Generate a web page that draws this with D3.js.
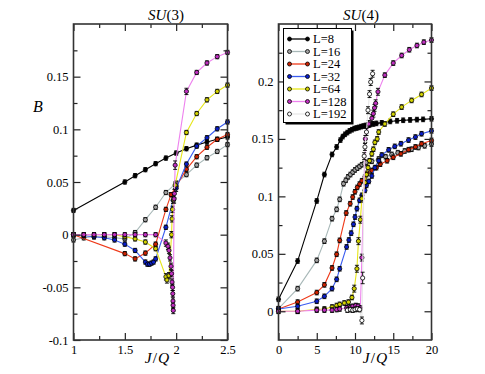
<!DOCTYPE html>
<html>
<head>
<meta charset="utf-8">
<script src="https://cdn.jsdelivr.net/npm/d3@7"></script>
<style>
body { margin: 0; background: #fff; }
svg text { font-family: "Liberation Serif", "Times New Roman", Times, serif; }
</style>
</head>
<body>
<div id="chart"></div>
<script>
'use strict';

// ---------------- data: [J/Q, B, error] ----------------
var legendLabels = ['L=8', 'L=16', 'L=24', 'L=32', 'L=64', 'L=128', 'L=192'];

var su3XTicks = [1, 1.5, 2, 2.5];
var su3XMinor = [1.25, 1.75, 2.25];
var su3YTicks = [-0.1, -0.05, 0, 0.05, 0.1, 0.15];
var su3YMinor = [-0.075, -0.025, 0.025, 0.075, 0.125, 0.175];

var su4XTicks = [0, 5, 10, 15, 20];
var su4XMinor = [2.5, 7.5, 12.5, 17.5];
var su4YTicks = [0, 0.05, 0.1, 0.15, 0.2];
var su4YMinor = [0.025, 0.075, 0.125, 0.175, 0.225];

var su3L8 = [[1,0.023,0.002],[1.5,0.050,0.002],[1.6,0.056,0.002],[1.7,0.0617,0.002],[1.8,0.0674,0.002],
    [1.9,0.0727,0.002],[2.0,0.0775,0.002],[2.1,0.0816,0.002],[2.2,0.085,0.002],[2.3,0.088,0.002],
    [2.4,0.0905,0.002],[2.5,0.0927,0.002]];
var su3L16 = [[1,-0.005,0.002],[1.1,-0.003,0.002],[1.2,-0.002,0.002],[1.3,-0.002,0.002],[1.4,-0.003,0.002],
    [1.5,-0.004,0.002],[1.6,0.002,0.002],[1.7,0.0142,0.002],[1.8,0.026,0.002],[1.9,0.040,0.002],
    [2.0,0.049,0.002],[2.1,0.057,0.002],[2.2,0.066,0.002],[2.3,0.073,0.002],[2.4,0.079,0.002],[2.5,0.0855,0.002]];
var su3L24 = [[1,0,0.002],[1.5,-0.018,0.002],[1.6,-0.023,0.002],[1.7,-0.0175,0.002],[1.8,-0.009,0.002],
    [1.9,0.024,0.002],[1.95,0.038,0.002],[2.0,0.046,0.002],[2.1,0.062,0.002],[2.2,0.074,0.002],
    [2.3,0.083,0.002],[2.4,0.0905,0.002],[2.5,0.095,0.002]];
var su3L32 = [[1,0,0.002],[1.1,-0.001,0.002],[1.2,-0.002,0.002],[1.3,-0.003,0.002],[1.4,-0.005,0.002],
    [1.5,-0.009,0.002],[1.6,-0.015,0.002],[1.7,-0.026,0.002],[1.72,-0.028,0.002],[1.74,-0.028,0.002],
    [1.76,-0.027,0.002],[1.78,-0.026,0.002],[1.8,-0.023,0.002],[1.9,0.007,0.002],[1.97,0.0326,0.003],
    [2.0,0.044,0.003],[2.1,0.067,0.002],[2.2,0.084,0.002],[2.3,0.092,0.002],[2.4,0.1005,0.002],[2.5,0.107,0.002]];
var su3L64 = [[1,0,0.002],[1.1,0,0.002],[1.2,0,0.002],[1.3,0,0.002],[1.4,0,0.002],[1.5,-0.002,0.002],
    [1.6,-0.004,0.002],[1.7,-0.007,0.002],[1.8,-0.0133,0.002],[1.9,-0.04,0.003],[1.91,-0.043,0.003],
    [1.93,-0.039,0.003],[1.955,0.0,0.003],[1.96,0.015,0.003],[1.965,0.024,0.003],[1.975,0.033,0.003],
    [1.99,0.047,0.003],[2.1,0.097,0.002],[2.2,0.115,0.002],[2.3,0.128,0.002],[2.4,0.136,0.002],[2.5,0.142,0.002]];
var su3L128 = [[1,0,0.002],[1.1,0,0.002],[1.2,0,0.002],[1.3,0,0.002],[1.4,0,0.002],[1.5,0,0.002],
    [1.6,0,0.002],[1.7,0,0.002],[1.8,0,0.002],[1.9,-0.008,0.003],[1.92,-0.011,0.003],[1.93,-0.015,0.003],
    [1.94,-0.022,0.003],[1.95,-0.03,0.003],[1.955,-0.037,0.003],[1.96,-0.045,0.003],[1.965,-0.05,0.003],
    [1.967,-0.056,0.003],[1.969,-0.063,0.003],[1.97,-0.067,0.003],[1.972,-0.072,0.003],[1.98,0.034,0.004],
    [1.983,0.039,0.004],[1.99,0.066,0.004],[2.1,0.136,0.003],[2.2,0.154,0.002],[2.3,0.163,0.002],
    [2.4,0.169,0.002],[2.5,0.173,0.002]];

var su4L8 = [[0,0.0104,0.002],[2.5,0.0437,0.002],[5,0.096,0.002],[6,0.119,0.002],[7,0.1365,0.002],
    [7.6,0.143,0.002],[8.1,0.149,0.002],[8.4,0.152,0.002],[8.7,0.154,0.002],[9,0.1555,0.002],
    [9.3,0.157,0.002],[9.6,0.158,0.002],[9.9,0.159,0.002],[10.2,0.1595,0.002],[10.5,0.160,0.002],
    [10.8,0.1607,0.002],[11.1,0.1612,0.002],[11.4,0.1617,0.002],[11.7,0.162,0.002],[12,0.1625,0.002],
    [12.4,0.163,0.002],[12.8,0.1635,0.002],[13.5,0.164,0.002],[14.6,0.1652,0.002],[15.5,0.1658,0.002],
    [16.3,0.1662,0.002],[17.2,0.1665,0.002],[18.1,0.1668,0.002],[18.9,0.167,0.002],[20,0.1675,0.002]];
var su4L16 = [[0,0.0023,0.002],[2.5,0.0197,0.002],[5,0.0443,0.002],[6,0.061,0.002],[7,0.0806,0.002],
    [7.6,0.0887,0.002],[8,0.0974,0.002],[8.5,0.111,0.002],[8.8,0.114,0.002],[9.1,0.117,0.002],
    [9.4,0.119,0.002],[9.7,0.121,0.002],[10,0.123,0.002],[10.3,0.1245,0.002],[10.6,0.126,0.002],
    [10.9,0.1275,0.002],[11.2,0.1285,0.002],[11.5,0.1295,0.002],[12.2,0.1305,0.002],[13.1,0.1325,0.002],
    [14,0.1345,0.002],[14.8,0.1365,0.002],[15.6,0.138,0.002],[16.5,0.1395,0.002],[17.4,0.141,0.002],
    [18.3,0.1425,0.002],[19.1,0.144,0.002],[20,0.1455,0.002]];
var su4L24 = [[0,0.002,0.002],[2.5,0.008,0.002],[5,0.0163,0.002],[6,0.023,0.002],[7,0.0377,0.002],
    [7.6,0.0496,0.002],[8,0.0617,0.002],[8.85,0.0855,0.002],[9.37,0.0936,0.002],[9.7,0.0994,0.002],
    [10,0.104,0.002],[10.3,0.1078,0.002],[10.6,0.1107,0.002],[10.9,0.1136,0.002],[11.3,0.117,0.002],
    [11.6,0.12,0.002],[12.2,0.1225,0.002],[12.8,0.125,0.002],[13.3,0.128,0.002],[14.2,0.131,0.002],
    [15,0.134,0.002],[16,0.137,0.002],[17,0.1406,0.002],[17.9,0.143,0.002],[18.7,0.1458,0.002],[20,0.1487,0.002]];
var su4L32 = [[0,0.002,0.002],[2.5,0.0043,0.002],[5,0.0087,0.002],[6,0.013,0.002],[7,0.0197,0.002],
    [7.6,0.0278,0.002],[8,0.037,0.002],[8.9,0.056,0.002],[9.2,0.062,0.002],[9.5,0.068,0.002],
    [9.8,0.0757,0.002],[10,0.082,0.002],[10.25,0.0893,0.002],[10.6,0.0965,0.002],[10.9,0.1009,0.002],
    [11.3,0.1052,0.002],[11.5,0.1096,0.002],[11.8,0.113,0.002],[12.2,0.1178,0.002],[12.6,0.125,0.002],
    [13.1,0.131,0.002],[13.5,0.136,0.002],[14.4,0.1405,0.002],[15.2,0.1435,0.002],[16,0.1458,0.002],
    [17,0.149,0.002],[17.9,0.1516,0.002],[18.7,0.1545,0.002],[20,0.157,0.002]];
var su4L64 = [[0,0,0.002],[2.5,0,0.002],[5,0.0017,0.002],[6,0.002,0.002],[7,0.0037,0.002],[7.6,0.005,0.002],
    [8,0.006,0.002],[8.6,0.0072,0.002],[9.15,0.008,0.002],[9.6,0.012,0.002],[9.9,0.0197,0.003],
    [10.25,0.037,0.003],[10.45,0.061,0.003],[10.7,0.0797,0.003],[10.9,0.098,0.003],[11.3,0.112,0.002],
    [11.5,0.119,0.002],[11.7,0.125,0.002],[11.9,0.131,0.002],[12.2,0.137,0.002],[12.4,0.141,0.002],
    [12.6,0.147,0.002],[12.9,0.150,0.002],[13.1,0.156,0.002],[13.9,0.163,0.002],[15,0.1715,0.002],
    [16.1,0.1777,0.002],[17.4,0.1835,0.002],[18.7,0.1887,0.002],[20,0.1942,0.002]];
var su4L128 = [[0,0,0.002],[2.5,0,0.002],[5,0.001,0.002],[6,0.001,0.002],[7,0.001,0.002],[7.6,0.0015,0.002],
    [8,0.002,0.002],[8.9,0.003,0.002],[9.4,0.0035,0.002],[9.7,0.0043,0.002],[10.1,0.005,0.002],
    [10.4,0.0045,0.002],[10.7,0.003,0.002],[10.9,0.0467,0.003],[11.35,0.15,0.003],[11.8,0.163,0.003],
    [12.2,0.168,0.003],[12.4,0.172,0.003],[12.55,0.177,0.003],[12.7,0.181,0.003],[13,0.191,0.003],
    [13.9,0.2055,0.002],[15,0.216,0.002],[16.1,0.2226,0.002],[17.1,0.2276,0.002],[18.1,0.2313,0.002],
    [19,0.2342,0.002],[20,0.236,0.002]];
var su4L192 = [[9,0.001,0.002],[9.4,0.0015,0.002],[9.7,0.001,0.002],[10,0.0015,0.002],[10.3,0.002,0.002],
    [10.6,0.0015,0.002],[10.9,-0.008,0.003],[11,0.029,0.005],[11.2,0.135,0.003],[11.3,0.143,0.003],
    [11.5,0.156,0.003],[11.7,0.175,0.003],[11.9,0.189,0.003],[12.05,0.1995,0.003],[12.3,0.2067,0.003]];

var su3Sets = [su3L8, su3L16, su3L24, su3L32, su3L64, su3L128];
var su4Sets = [su4L8, su4L16, su4L24, su4L32, su4L64, su4L128, su4L192];

// ---------------- style per set ----------------
var lineColors = ['#000000', '#a8b8b8', '#ee3a1a', '#3a5cf0', '#e6e61a', '#ee82ee', '#e8e8e8'];
var fillColors = ['#000000', '#a0a0a0', '#cc2200', '#0a1ec8', '#d2d200', '#c030c0', '#ffffff'];

var serif = '"Liberation Serif", "Times New Roman", Times, serif';

function twoPanels()
{
    var scope = this || {};
    var exports = {};

    scope.width = 485;
    scope.height = 374;
    scope.top = 24;
    scope.bottom = 340;
    scope.radius = 2.1;

    scope.appendSvg = function(div)
    {
        return d3.select(div).append('svg')
            .attr('width', scope.width)
            .attr('height', scope.height)
            .attr('font-family', serif);
    }

    scope.fmt = function(d) { return String(+d.toFixed(3)); }

    scope.drawAxes = function(g, x, y, cfg)
    {
        var h = scope.bottom - scope.top;
        var w = cfg.right - cfg.left;

        var specs = [
            [d3.axisBottom(x), 'translate(0,' + h + ')', cfg.xTicks, cfg.xMinor, true],
            [d3.axisTop(x), 'translate(0,0)', cfg.xTicks, cfg.xMinor, false],
            [d3.axisLeft(y), 'translate(0,0)', cfg.yTicks, cfg.yMinor, true],
            [d3.axisRight(y), 'translate(' + w + ',0)', cfg.yTicks, cfg.yMinor, false]
        ];

        specs.forEach(function(s) {
            var major = s[0].tickValues(s[2]).tickSizeInner(-7).tickSizeOuter(0).tickPadding(5)
                .tickFormat(s[4] ? scope.fmt : function() { return ''; });
            var ga = g.append('g').attr('transform', s[1]).call(major);
            ga.attr('font-family', serif).attr('font-size', 12.5);
            ga.select('.domain').remove();
            ga.selectAll('line').attr('stroke', '#222').attr('stroke-width', 1.2);
            ga.selectAll('text').attr('fill', '#000');

            var minorAxis = s[0].tickValues(s[3]).tickSizeInner(-4).tickFormat(function() { return ''; });
            var gm = g.append('g').attr('transform', s[1]).call(minorAxis);
            gm.select('.domain').remove();
            gm.selectAll('line').attr('stroke', '#222').attr('stroke-width', 1.2);
        });

        g.append('rect')
            .attr('x', 0).attr('y', 0)
            .attr('width', w).attr('height', h)
            .attr('fill', 'none')
            .attr('stroke', '#333')
            .attr('stroke-width', 1.6);
    }

    scope.drawSet = function(g, x, y, data, i)
    {
        var line = d3.line()
            .x(function(d) { return x(d[0]); })
            .y(function(d) { return y(d[1]); });

        g.append('path')
            .datum(data)
            .attr('d', line)
            .attr('fill', 'none')
            .attr('stroke', lineColors[i])
            .attr('stroke-width', 1.1);

        var err = g.append('g').attr('stroke', '#000').attr('stroke-width', 0.9);
        data.forEach(function(d) {
            var cx = x(d[0]), y0 = y(d[1] - d[2]), y1 = y(d[1] + d[2]);
            err.append('line').attr('x1', cx).attr('x2', cx).attr('y1', y0).attr('y2', y1);
            err.append('line').attr('x1', cx - 2).attr('x2', cx + 2).attr('y1', y0).attr('y2', y0);
            err.append('line').attr('x1', cx - 2).attr('x2', cx + 2).attr('y1', y1).attr('y2', y1);
        });

        g.append('g').selectAll('circle')
            .data(data)
            .enter()
            .append('circle')
            .attr('cx', function(d) { return x(d[0]); })
            .attr('cy', function(d) { return y(d[1]); })
            .attr('r', scope.radius)
            .attr('fill', fillColors[i])
            .attr('stroke', '#000')
            .attr('stroke-width', 0.8);
    }

    scope.drawPanel = function(svg, cfg)
    {
        var x = d3.scaleLinear().domain(cfg.xDomain).range([0, cfg.right - cfg.left]);
        var y = d3.scaleLinear().domain(cfg.yDomain).range([scope.bottom - scope.top, 0]);

        var g = svg.append('g')
            .attr('transform', 'translate(' + cfg.left + ',' + scope.top + ')');

        cfg.sets.forEach(function(data, i) { scope.drawSet(g, x, y, data, i); });
        scope.drawAxes(g, x, y, cfg);

        // title
        var t = svg.append('text')
            .attr('x', cfg.titleX).attr('y', 20)
            .attr('text-anchor', 'middle')
            .attr('font-size', 15);
        t.append('tspan').attr('font-style', 'italic').text('SU');
        t.append('tspan').text(cfg.title);

        // x label
        var xl = svg.append('text')
            .attr('x', cfg.labelX).attr('y', 363)
            .attr('text-anchor', 'middle')
            .attr('font-size', 15.5);
        xl.append('tspan').attr('font-style', 'italic').text('J');
        xl.append('tspan').attr('dx', 1).text('/');
        xl.append('tspan').attr('dx', 1).attr('font-style', 'italic').text('Q');

        return {x: x, y: y, g: g};
    }

    scope.drawLegend = function(svg)
    {
        var x0 = 283.5, y0 = 28.5, w = 68, h = 94;
        svg.append('rect')
            .attr('x', x0 + 2).attr('y', y0 + 2).attr('width', w).attr('height', h)
            .attr('fill', '#000');
        svg.append('rect')
            .attr('x', x0).attr('y', y0).attr('width', w).attr('height', h)
            .attr('fill', '#fff').attr('stroke', '#000').attr('stroke-width', 1);

        legendLabels.forEach(function(label, i) {
            var cy = 39 + i * 12.5;
            svg.append('line')
                .attr('x1', 289.5).attr('x2', 307.5).attr('y1', cy).attr('y2', cy)
                .attr('stroke', lineColors[i]).attr('stroke-width', 1.3);
            [289.5, 307.5].forEach(function(cx) {
                svg.append('circle')
                    .attr('cx', cx).attr('cy', cy).attr('r', 2)
                    .attr('fill', fillColors[i]).attr('stroke', '#000').attr('stroke-width', 0.8);
            });
            svg.append('text')
                .attr('x', 313).attr('y', cy + 4.3)
                .attr('font-size', 12.5)
                .text(label);
        });
    }

    //------------- exported API -----------------------------------

    exports.run = function(div)
    {
        var svg = scope.appendSvg(div);

        scope.drawPanel(svg, {
            left: 73.5, right: 227.5, xDomain: [1, 2.5], yDomain: [-0.1, 0.2],
            xTicks: su3XTicks, xMinor: su3XMinor, yTicks: su3YTicks, yMinor: su3YMinor,
            sets: su3Sets, title: '(3)', titleX: 166, labelX: 157
        });
        scope.drawPanel(svg, {
            left: 278.5, right: 431.5, xDomain: [0, 20], yDomain: [-0.025, 0.25],
            xTicks: su4XTicks, xMinor: su4XMinor, yTicks: su4YTicks, yMinor: su4YMinor,
            sets: su4Sets, title: '(4)', titleX: 361, labelX: 375
        });

        svg.append('text')
            .attr('x', 33).attr('y', 112)
            .attr('font-size', 16)
            .attr('font-style', 'italic')
            .text('B');

        scope.drawLegend(svg);
    }

    return exports;
}

twoPanels.call({}).run('#chart');
</script>
</body>
</html>
